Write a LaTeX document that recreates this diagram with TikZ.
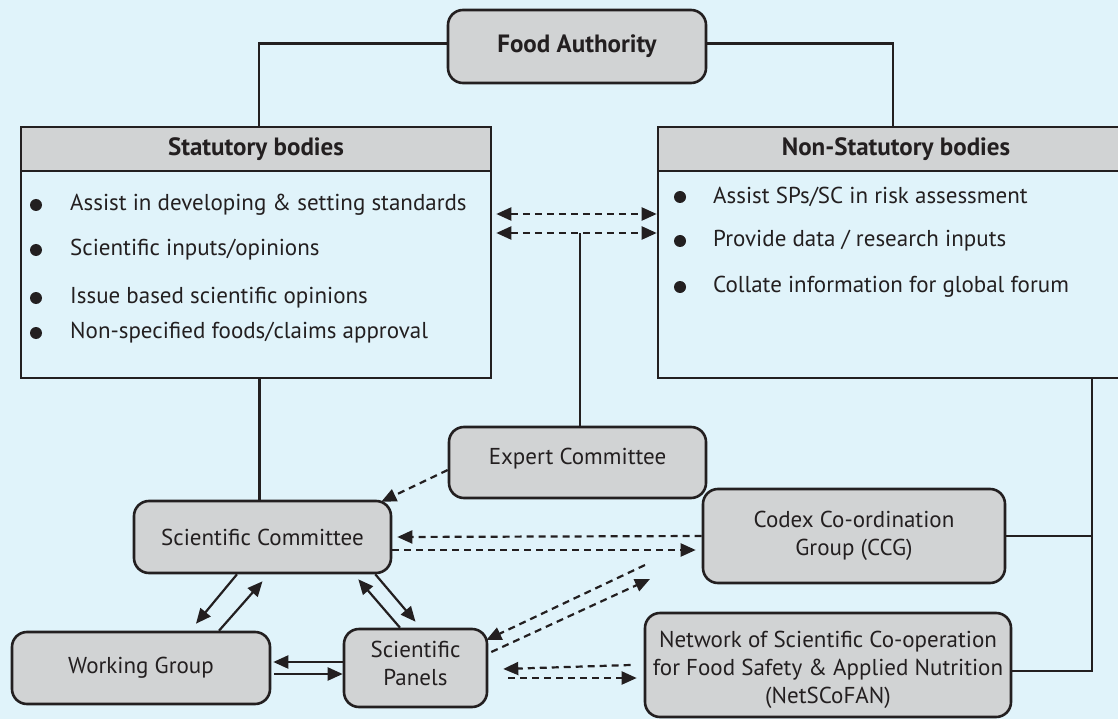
\documentclass[tikz,border=0pt]{standalone}
\usepackage{fontspec}
\setmainfont{PT Sans}
\usetikzlibrary{arrows.meta}
\definecolor{bgc}{HTML}{E0F3FA}
\definecolor{boxg}{HTML}{D1D3D4}
\definecolor{ink}{HTML}{231F20}
\tikzset{
  rbox/.style={draw=ink, line width=2.6pt, fill=boxg, rounded corners=15pt, align=center, text=ink, font=\fontsize{23}{28}\selectfont, inner sep=0pt},
  txt/.style={align=center, text=ink, font=\fontsize{23}{28}\selectfont, inner sep=0pt},
  sqbox/.style={draw=ink, line width=2.6pt, inner sep=0pt},
  headbox/.style={draw=ink, line width=2.6pt, fill=boxg, inner sep=0pt, text=ink, font=\fontsize{25}{28}\selectfont\bfseries},
  btext/.style={anchor=west, inner sep=0pt, text=ink, font=\fontsize{23}{28}\selectfont},
  bul/.style={fill=ink},
  conn/.style={draw=ink, line width=2.2pt},
  tipa/.style={-{Triangle[length=15pt,width=13pt]}},
  dasha/.style={draw=ink, line width=2.2pt, dash pattern=on 7pt off 5pt, -{Triangle[length=15pt,width=13pt]}},
  dboth/.style={{Triangle[length=15pt,width=13pt]}-{Triangle[length=15pt,width=13pt]}},
}
\begin{document}
\begin{tikzpicture}[x=1pt,y=-1pt]
\useasboundingbox (0,0) rectangle (1118,719);
\fill[bgc] (0,0) rectangle (1118,719);
\clip (0,0) rectangle (1118,719);

% top
\node[rbox, font=\fontsize{25}{28}\selectfont\bfseries, minimum width=258pt, minimum height=73pt] (fa) at (577,46.5) {Food Authority};

% statutory
\node[sqbox, minimum width=470pt, minimum height=251pt] (stat) at (256,252.5) {};
\node[headbox, minimum width=470pt, minimum height=44pt] (sthead) at (256,149) {Statutory bodies};
\node[sqbox, minimum width=476pt, minimum height=251pt] (nstat) at (896,252.5) {};
\node[headbox, minimum width=476pt, minimum height=44pt] (nshead) at (896,149) {Non-Statutory bodies};

\draw[conn] ([yshift=3pt]fa.west) -| ([xshift=3pt]sthead.north);
\draw[conn] ([yshift=3pt]fa.east) -| ([xshift=-3pt]nshead.north);

% bullets statutory
\foreach \y in {205,250,298,333} \fill[bul] (36,\y) circle (6pt);
\node[btext] (s1) at (70,205) {Assist in developing \& setting standards};
\node[btext] (s2) at (70,250) {Scientific inputs/opinions};
\node[btext] (s3) at (70,298) {Issue based scientific opinions};
\node[btext] (s4) at (70,333) {Non-specified foods/claims approval};

\foreach \y in {197,241,287} \fill[bul] (680,\y) circle (6pt);
\node[btext] (n1) at (713,197) {Assist SPs/SC in risk assessment};
\node[btext] (n2) at (713,241) {Provide data / research inputs};
\node[btext] (n3) at (713,287) {Collate information for global forum};

% lower nodes
\node[rbox, minimum width=257pt, minimum height=71pt] (exp) at (577.5,462.5) {};
\node[txt] (expt) at ([yshift=4pt]exp.center) {Expert Committee};
\node[rbox, minimum width=257pt, minimum height=72pt] (sc) at (262.5,537) {Scientific Committee};
\node[rbox, minimum width=258pt, minimum height=72pt] (wg) at (141,668) {Working Group};
\node[rbox, minimum width=143pt, minimum height=78pt] (sp) at (415.5,668) {};
\node[txt] (spt) at ([yshift=5pt]sp.center) {Scientific\\Panels};
\node[rbox, minimum width=302pt, minimum height=94pt] (ccg) at (854,536) {Codex Co-ordination\\Group (CCG)};
\node[rbox, minimum width=366pt, minimum height=104pt] (net) at (828,665) {};
\node[txt] (nett) at ([yshift=-5pt]net.center) {Network of Scientific Co-operation\\for Food Safety \& Applied Nutrition\\(NetSCoFAN)};

\coordinate (ya) at (0,214);
\coordinate (yb) at (0,233);
\coordinate (rtop) at (1092,378);
\coordinate (d1) at (645,565);
\coordinate (d2) at (650,579);

% dashed between statutory bodies
\draw[dasha, dboth] ([xshift=4pt]stat.east |- ya) -- (nstat.west |- ya);
\draw[dasha, dboth] ([xshift=4pt]stat.east |- yb) -- (nstat.west |- yb);
\draw[conn] ([xshift=2.5pt]exp.north) -- ([xshift=2.5pt]exp.north |- yb);

% solid vertical from statutory to SC
\draw[conn] ([xshift=-3pt]sc.north |- stat.south) -- ([xshift=-3pt]sc.north);

% right connectors
\draw[conn] (rtop) |- ([yshift=-6pt]net.east);
\draw[conn] (ccg.east) -- (ccg.east -| rtop);

% expert -> SC
\draw[dasha] ([yshift=-7.5pt]exp.west) -- ([xshift=-11pt,yshift=-2pt]sc.north east);

% SC <-> CCG
\draw[dasha] (ccg.west) -- ([xshift=5pt]sc.east);
\draw[dasha] ([yshift=-13pt]sc.east) -- ([xshift=-6pt,yshift=-14pt]ccg.west);

% SC <-> WG
\draw[conn, tipa] ([xshift=-25.5pt]sc.south) -- ([xshift=55pt,yshift=7pt]wg.north);
\draw[conn, tipa] ([xshift=78pt]wg.north) -- ([yshift=-7pt]sc.south);

% SC <-> SP
\draw[conn, tipa] ([xshift=-15.5pt]sp.north) -- ([xshift=-34pt,yshift=-5pt]sc.south east);
\draw[conn, tipa] ([xshift=-17pt]sc.south east) -- ([yshift=6pt]sp.north);

% WG <-> SP
\draw[conn, tipa] ([yshift=6pt]sp.west) -- ([xshift=2pt,yshift=6pt]wg.east);
\draw[conn, tipa] ([xshift=3pt,yshift=-6pt]wg.east) -- ([yshift=-6pt]sp.west);

% SP diagonals
\draw[dasha] (d1) -- ([xshift=-2pt,yshift=28pt]sp.east);
\draw[dasha] ([xshift=3pt,yshift=16pt]sp.east) -- (d2);

% SP <-> NetSCoFAN
\draw[dasha] ([xshift=-13pt]net.west) -- ([xshift=15pt,yshift=-1pt]sp.east);
\draw[dasha] ([xshift=20pt,yshift=-10pt]sp.east) -- ([xshift=-7pt,yshift=-13pt]net.west);
\end{tikzpicture}
\end{document}
